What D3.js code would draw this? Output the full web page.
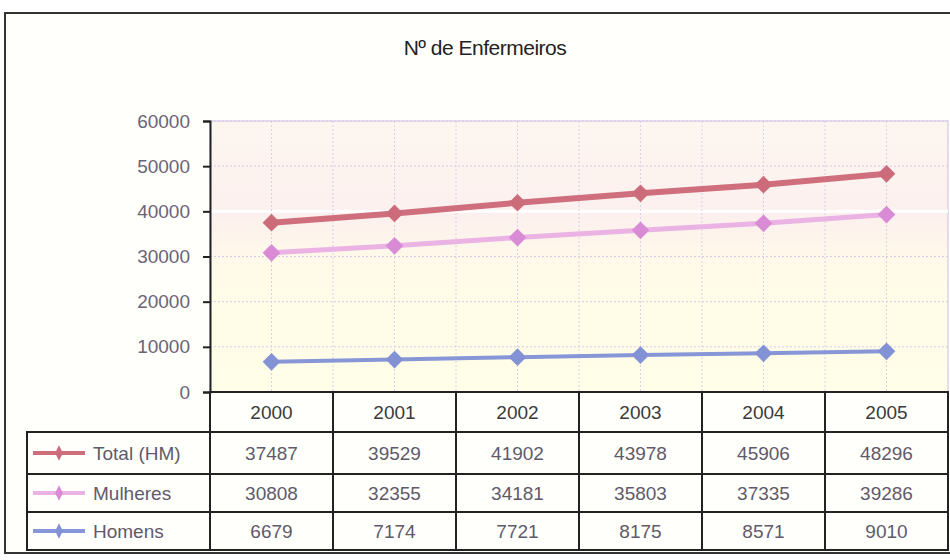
<!DOCTYPE html>
<html>
<head>
<meta charset="utf-8">
<script src="https://cdn.jsdelivr.net/npm/d3@7.9.0/dist/d3.min.js"></script>
<style>
  body { margin: 0; background: #fff; }
  svg { display: block; font-family: "Liberation Sans", Arial, sans-serif; }
</style>
</head>
<body>
<svg width="950" height="560"></svg>
<script>
// chart data
const years = ['2000', '2001', '2002', '2003', '2004', '2005'];
const total = [37487, 39529, 41902, 43978, 45906, 48296];
const mulheres = [30808, 32355, 34181, 35803, 37335, 39286];
const homens = [6679, 7174, 7721, 8175, 8571, 9010];
const yTicks = [0, 10000, 20000, 30000, 40000, 50000, 60000];

const series = [
  { name: 'Total (HM)', values: total, color: '#cf6f7e', marker: '#cc6b7a', width: 6 },
  { name: 'Mulheres', values: mulheres, color: '#ebb3e4', marker: '#d98bd6', width: 5 },
  { name: 'Homens', values: homens, color: '#8796d6', marker: '#8392d4', width: 4 }
];

const svg = d3.select('svg');

// gradients
const defs = svg.append('defs');
const bg = defs.append('linearGradient').attr('id', 'plotbg').attr('x1', 0).attr('y1', 0).attr('x2', 0).attr('y2', 1);
bg.append('stop').attr('offset', '0%').attr('stop-color', '#fdf6ef');
bg.append('stop').attr('offset', '35%').attr('stop-color', '#fcf0ee');
bg.append('stop').attr('offset', '55%').attr('stop-color', '#fffbe8');
bg.append('stop').attr('offset', '100%').attr('stop-color', '#fffee8');

const plotLeft = 210, plotRight = 948, plotTop = 121, plotBottom = 392;

const x = d3.scaleBand().domain(years).range([plotLeft, plotRight]);
const y = d3.scaleLinear().domain([0, 60000]).range([plotBottom, plotTop]);

// outer frame
svg.append('rect')
  .attr('x', 5).attr('y', 13).attr('width', 950).attr('height', 540)
  .attr('fill', '#fffffb').attr('stroke', '#333').attr('stroke-width', 2);

// title
svg.append('text')
  .attr('x', 485).attr('y', 55)
  .attr('text-anchor', 'middle')
  .attr('font-size', 21)
  .attr('letter-spacing', -0.5)
  .attr('fill', '#222')
  .text('Nº de Enfermeiros');

// plot area
svg.append('rect')
  .attr('x', plotLeft).attr('y', plotTop).attr('width', plotRight - plotLeft).attr('height', plotBottom - plotTop)
  .attr('fill', 'url(#plotbg)').attr('stroke', '#c9bde6').attr('stroke-width', 1);

// horizontal grid
svg.append('g').selectAll('line')
  .data(yTicks.slice(1))
  .join('line')
  .attr('x1', plotLeft).attr('x2', plotRight)
  .attr('y1', d => y(d)).attr('y2', d => y(d))
  .attr('stroke', d => d === 40000 ? '#ffffff' : '#d6c8ec')
  .attr('stroke-width', d => d === 40000 ? 3 : 1)
  .attr('stroke-dasharray', d => d === 40000 ? null : '2,2');

// vertical grid at category centres and boundaries
const vLines = [];
years.forEach(yr => {
  vLines.push(x(yr) + x.bandwidth() / 2);
  if (yr !== years[0]) vLines.push(x(yr));
});
svg.append('g').selectAll('line')
  .data(vLines)
  .join('line')
  .attr('x1', d => d).attr('x2', d => d)
  .attr('y1', plotTop).attr('y2', plotBottom)
  .attr('stroke', '#d9d0ea').attr('stroke-width', 1)
  .attr('stroke-dasharray', '2,2');

// y axis
const yAxis = svg.append('g')
  .attr('transform', `translate(${plotLeft},0)`)
  .call(d3.axisLeft(y).tickValues(yTicks).tickSize(7).tickPadding(13).tickFormat(d3.format('d')));
yAxis.select('.domain').attr('stroke', '#222').attr('stroke-width', 2);
yAxis.selectAll('.tick line').attr('stroke', '#222').attr('stroke-width', 2);
yAxis.selectAll('text')
  .attr('font-size', 19).attr('fill', '#6a6478')
  .attr('font-family', '"Liberation Sans", Arial, sans-serif');

// lines and markers
const line = d3.line()
  .x((d, i) => x(years[i]) + x.bandwidth() / 2)
  .y(d => y(d));

const diamond = d3.symbol().type(d3.symbolDiamond2).size(200);

series.forEach(s => {
  svg.append('path')
    .attr('d', line(s.values))
    .attr('fill', 'none')
    .attr('stroke', s.color)
    .attr('stroke-width', s.width);
  svg.append('g').selectAll('path')
    .data(s.values)
    .join('path')
    .attr('d', diamond)
    .attr('transform', (d, i) => `translate(${x(years[i]) + x.bandwidth() / 2},${y(d)})`)
    .attr('fill', s.marker);
});

// data table
const headerTop = plotBottom, rowTops = [432, 474, 512], tableBottom = 550, tableLeft = 27;
const tbl = svg.append('g').attr('fill', 'none').attr('stroke', '#222').attr('stroke-width', 2);

// header box
tbl.append('rect')
  .attr('x', plotLeft).attr('y', headerTop).attr('width', plotRight - plotLeft).attr('height', rowTops[0] - headerTop);
// body box
tbl.append('rect')
  .attr('x', tableLeft).attr('y', rowTops[0]).attr('width', plotRight - tableLeft).attr('height', tableBottom - rowTops[0]);
// row separators
tbl.selectAll('line.row')
  .data(rowTops.slice(1))
  .join('line')
  .attr('class', 'row')
  .attr('x1', tableLeft).attr('x2', plotRight)
  .attr('y1', d => d).attr('y2', d => d);
// column separators
tbl.selectAll('line.col')
  .data(years)
  .join('line')
  .attr('class', 'col')
  .attr('x1', d => x(d)).attr('x2', d => x(d))
  .attr('y1', headerTop).attr('y2', tableBottom);

// year headers
svg.append('g').selectAll('text')
  .data(years)
  .join('text')
  .attr('x', d => x(d) + x.bandwidth() / 2)
  .attr('y', (headerTop + rowTops[0]) / 2 + 7)
  .attr('text-anchor', 'middle')
  .attr('font-size', 19)
  .attr('fill', '#3a3a3a')
  .text(d => d);

// rows
const rowBottoms = [rowTops[1], rowTops[2], tableBottom];
series.forEach((s, r) => {
  const cy = (rowTops[r] + rowBottoms[r]) / 2;
  const g = svg.append('g');
  // legend key
  g.append('line')
    .attr('x1', 33).attr('x2', 85).attr('y1', cy).attr('y2', cy)
    .attr('stroke', s.color).attr('stroke-width', 4);
  g.append('path')
    .attr('d', d3.symbol().type(d3.symbolDiamond2).size(60))
    .attr('transform', `translate(59,${cy}) scale(0.8,1.6)`)
    .attr('fill', s.marker);
  g.append('text')
    .attr('x', 93).attr('y', cy + 7)
    .attr('font-size', 19)
    .attr('fill', '#5f5a6b')
    .text(s.name);
  // values
  g.selectAll('text.val')
    .data(s.values)
    .join('text')
    .attr('class', 'val')
    .attr('x', (d, i) => x(years[i]) + x.bandwidth() / 2)
    .attr('y', cy + 7)
    .attr('text-anchor', 'middle')
    .attr('font-size', 19)
    .attr('fill', '#5f5a6b')
    .text(d => d);
});
</script>
</body>
</html>
